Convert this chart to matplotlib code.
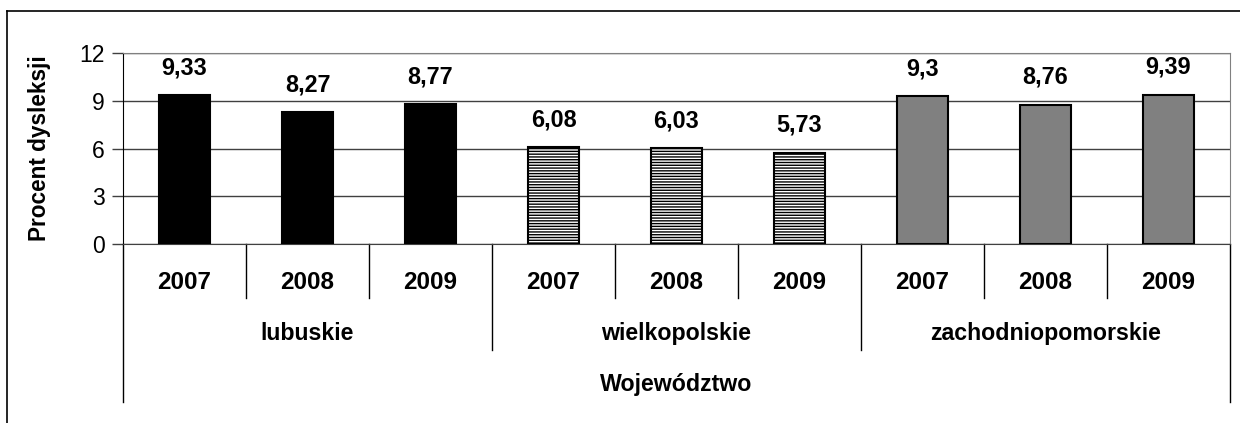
import matplotlib
matplotlib.use("Agg")
import matplotlib.pyplot as plt
from matplotlib.lines import Line2D
from matplotlib.transforms import blended_transform_factory

plt.rcParams["font.family"] = ["Liberation Sans", "DejaVu Sans"]
plt.rcParams["hatch.linewidth"] = 1.0

groups = ["lubuskie", "wielkopolskie", "zachodniopomorskie"]
years = ["2007", "2008", "2009"]
values = [
    [9.33, 8.27, 8.77],
    [6.08, 6.03, 5.73],
    [9.30, 8.76, 9.39],
]
labels = [
    ["9,33", "8,27", "8,77"],
    ["6,08", "6,03", "5,73"],
    ["9,3", "8,76", "9,39"],
]
colors = ["black", "white", "#808080"]
hatches = [None, "------", None]

W, H = 1240, 423
fig = plt.figure(figsize=(W / 100, H / 100), dpi=100)
ax = fig.add_axes([123 / W, (H - 244) / H, (1230 - 123) / W, (244 - 53) / H])

x = 0
for g, grp in enumerate(groups):
    for k in range(len(years)):
        ax.bar(x + 0.5, values[g][k], width=0.41, color=colors[g], hatch=hatches[g],
               edgecolor="black", linewidth=1.5, zorder=3)
        ax.text(x + 0.5, values[g][k] + 1.0, labels[g][k], ha="center", va="bottom",
                fontsize=16.8, fontweight="bold")
        x += 1

ax.set_xlim(0, 9)
ax.set_ylim(0, 12)
ax.set_yticks([0, 3, 6, 9, 12])
ax.set_yticklabels(["0", "3", "6", "9", "12"], fontsize=16.5)
ax.set_xticks([])
ax.tick_params(axis="y", length=8, width=1, color="#404040", pad=5)
ax.yaxis.grid(True, color="#404040", linewidth=1, zorder=0)
ax.set_axisbelow(True)
for side in ["top", "right"]:
    ax.spines[side].set_color("#808080")
ax.spines["left"].set_color("black")
ax.spines["bottom"].set_color("#404040")
ax.set_ylabel("Procent dysleksji", fontsize=16.3, fontweight="bold")
ax.yaxis.set_label_coords(-0.065, 0.5)

tr = blended_transform_factory(ax.transData, ax.transAxes)
# category separator lines
for i in range(10):
    if i in (0, 9):
        y1 = -0.827
    elif i % 3 == 0:
        y1 = -0.555
    else:
        y1 = -0.283
    ax.add_line(Line2D([i, i], [0, y1], transform=tr, color="black", linewidth=1, clip_on=False))

for i in range(9):
    ax.text(i + 0.5, -0.199, years[i % 3], transform=tr, ha="center", va="center",
            fontsize=17.5, fontweight="bold")
for g, grp in enumerate(groups):
    ax.text(g * 3 + 1.5, -0.466, grp, transform=tr, ha="center", va="center",
            fontsize=16.7, fontweight="bold")
ax.text(4.5, -0.738, "Województwo", transform=tr, ha="center", va="center",
        fontsize=16.7, fontweight="bold")

# outer chart border (only left and top visible)
fig.add_artist(Line2D([6.5 / W, 6.5 / W], [0, 1 - 11 / H], transform=fig.transFigure,
                      color="black", linewidth=1.2))
fig.add_artist(Line2D([6.5 / W, 1], [1 - 11 / H, 1 - 11 / H], transform=fig.transFigure,
                      color="black", linewidth=1.2))

fig.savefig("out.png", dpi=100)
